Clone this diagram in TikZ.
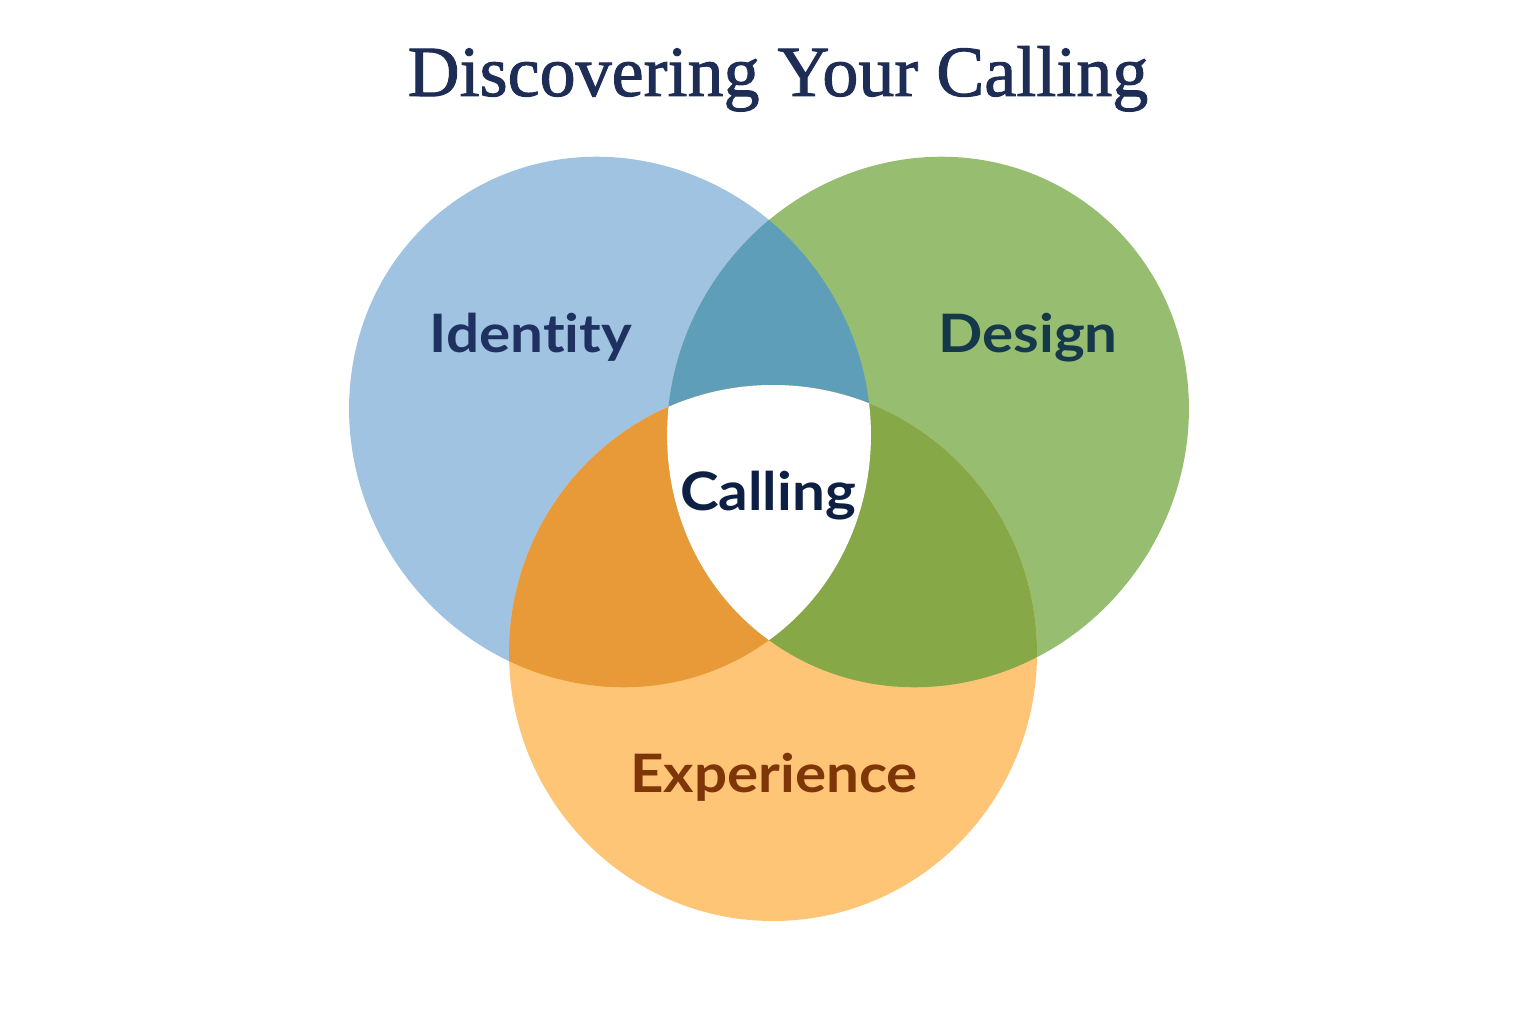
\documentclass[tikz,border=0pt]{standalone}
\usepackage{fontspec}
\setmainfont{Liberation Serif}
\newfontfamily\titlefont{Liberation Serif}[FakeBold=1.3]
\newfontfamily\labelfont{Lato}[FakeStretch=1.1, Ligatures=NoCommon]
\definecolor{bluefill}{HTML}{A0C3E2}
\definecolor{greenfill}{HTML}{96BD70}
\definecolor{orangefill}{HTML}{FEC576}
\definecolor{tealfill}{HTML}{5F9EB9}
\definecolor{amberfill}{HTML}{E89A38}
\definecolor{olivefill}{HTML}{87A847}
\definecolor{titlenavy}{HTML}{1D2D55}
\definecolor{identitytext}{HTML}{1E3160}
\definecolor{designtext}{HTML}{15394A}
\definecolor{callingtext}{HTML}{0E1F44}
\definecolor{experiencetext}{HTML}{7E3508}
% the three sets
\def\identityset{(610,422) ellipse [x radius=270, y radius=256, rotate=-54]}
\def\designset{(928,422) ellipse [x radius=270, y radius=256, rotate=54]}
\def\experienceset{(773,653) ellipse [x radius=264, y radius=268]}
\begin{document}
\begin{tikzpicture}[x=1pt,y=-1pt,
  setlabel/.style={font=\labelfont\bfseries\fontsize{53}{60}\selectfont, inner sep=0pt, anchor=base}]
\fill[white] (0,0) rectangle (1536,1024);
\useasboundingbox (0,0) rectangle (1536,1024);
\fill[bluefill] \identityset;
\fill[greenfill] \designset;
\fill[orangefill] \experienceset;
% overlaps
\begin{scope} \clip \identityset; \fill[tealfill] \designset; \end{scope}
\begin{scope} \clip \identityset; \fill[amberfill] \experienceset; \end{scope}
\begin{scope} \clip \designset; \fill[olivefill] \experienceset; \end{scope}
\begin{scope} \clip \identityset; \clip \designset; \fill[white] \experienceset; \end{scope}
\node[anchor=base, inner sep=0pt, text=titlenavy, font=\titlefont\fontsize{72}{80}\selectfont] (title) at (778,96) {Discovering Your Calling};
\node[setlabel, text=identitytext] (identity) at (531,352) {Identity};
\node[setlabel, text=designtext] (design) at (1028,352) {Design};
\node[setlabel, text=callingtext] (calling) at (768,510) {Calling};
\node[setlabel, text=experiencetext] (experience) at (774,792) {Experience};
\end{tikzpicture}
\end{document}
